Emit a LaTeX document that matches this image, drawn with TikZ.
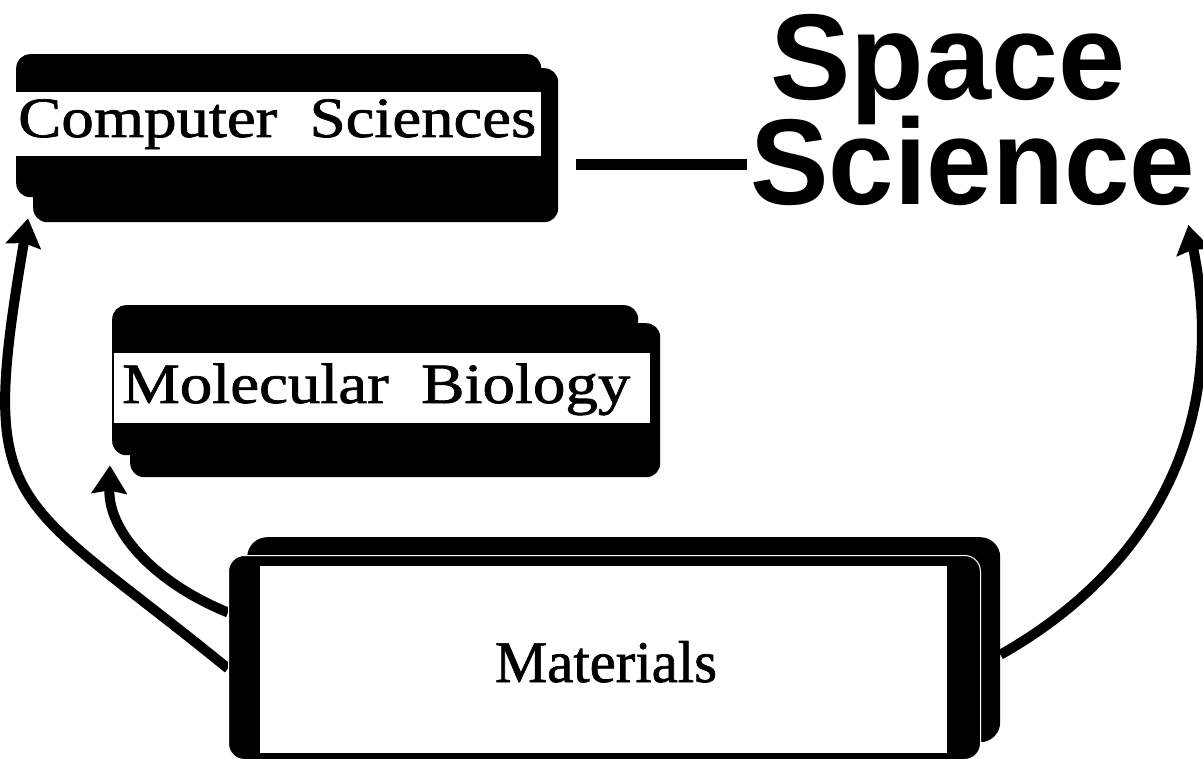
\documentclass[tikz,border=0pt]{standalone}
\usepackage{fontspec}
\usepackage{graphicx}
\setmainfont{Liberation Serif}[FakeBold=1.2]
\newfontfamily\ssf{Liberation Sans}
\usetikzlibrary{arrows.meta}
\pgfdeclarelayer{bg}
\pgfsetlayers{bg,main}
\begin{document}
\begin{tikzpicture}[x=1pt,y=-1pt,
  blk/.style={fill=black, rounded corners=14pt, inner sep=0pt, anchor=north west},
  band/.style={fill=white, inner sep=0pt, anchor=north west},
  lbl/.style={inner sep=0pt, anchor=base west, font=\fontsize{57}{60}\selectfont},
  big/.style={inner sep=0pt, anchor=base west, font=\ssf\bfseries\fontsize{122}{130}\selectfont},
  arr/.style={line width=10pt, -{Stealth[length=28pt,width=35pt,inset=3pt]}},
  dashln/.style={line width=11pt}
]
\useasboundingbox (0,0) rectangle (1203,759);

% Computer Sciences
\node[blk, minimum width=525pt, minimum height=154pt] (cssh) at (33,68) {};
\node[blk, minimum width=525pt, minimum height=143pt] (cs) at (16,54) {};
\node[band, minimum width=525pt, minimum height=64pt] (csband) at (16,92) {};
\node[lbl] (cst) at (18,137) {\resizebox{518pt}{\height}{Computer\ \ Sciences}};

% Molecular Biology
\node[blk, minimum width=530pt, minimum height=154pt] (mbsh) at (130,323) {};
\node[blk, minimum width=526pt, minimum height=150pt] (mb) at (112,305) {};
\node[band, minimum width=536pt, minimum height=70pt] (mbband) at (114,353) {};
\node[lbl] (mbt) at (122,403) {\resizebox{508pt}{\height}{Molecular\ \ Biology}};

% Materials
\node[blk, rounded corners=20pt, minimum width=753pt, minimum height=205pt] (matsh) at (247,537) {};
\node[blk, rounded corners=16pt, draw=white, line width=1pt, minimum width=752pt, minimum height=204pt] (mat) at (228,555) {};
\node[band, minimum width=687pt, minimum height=187pt] (matin) at (260,566) {};
\node[lbl, anchor=base, font=\fontsize{59}{60}\selectfont] (matt) at (606,682) {\resizebox{222pt}{\height}{Materials}};

% Space Science
\node[big] (sp) at (770,100) {\resizebox{355pt}{\height}{Space}};
\node[big] (sc) at (750,205) {\resizebox{445pt}{\height}{Science}};

% connectors
\coordinate (d1) at (576,165);
\coordinate (d2) at (747,165);
\draw[dashln] (d1) -- (d2);

\begin{pgfonlayer}{bg}
\draw[arr] ([yshift=-11pt]mat.west) .. controls (8,489) and (-23,516) .. ([xshift=-5pt,yshift=4pt]cssh.south west);
\draw[arr] ([yshift=45pt]mat.west) .. controls (160,585) and (108,535) .. ([xshift=-20pt,yshift=12pt]mbsh.south west);
\draw[arr] ([yshift=-15pt]matsh.east) .. controls (1159,565) and (1228,418) .. ([xshift=-7pt,yshift=-20pt]sc.base east);
\end{pgfonlayer}
\end{tikzpicture}
\end{document}
